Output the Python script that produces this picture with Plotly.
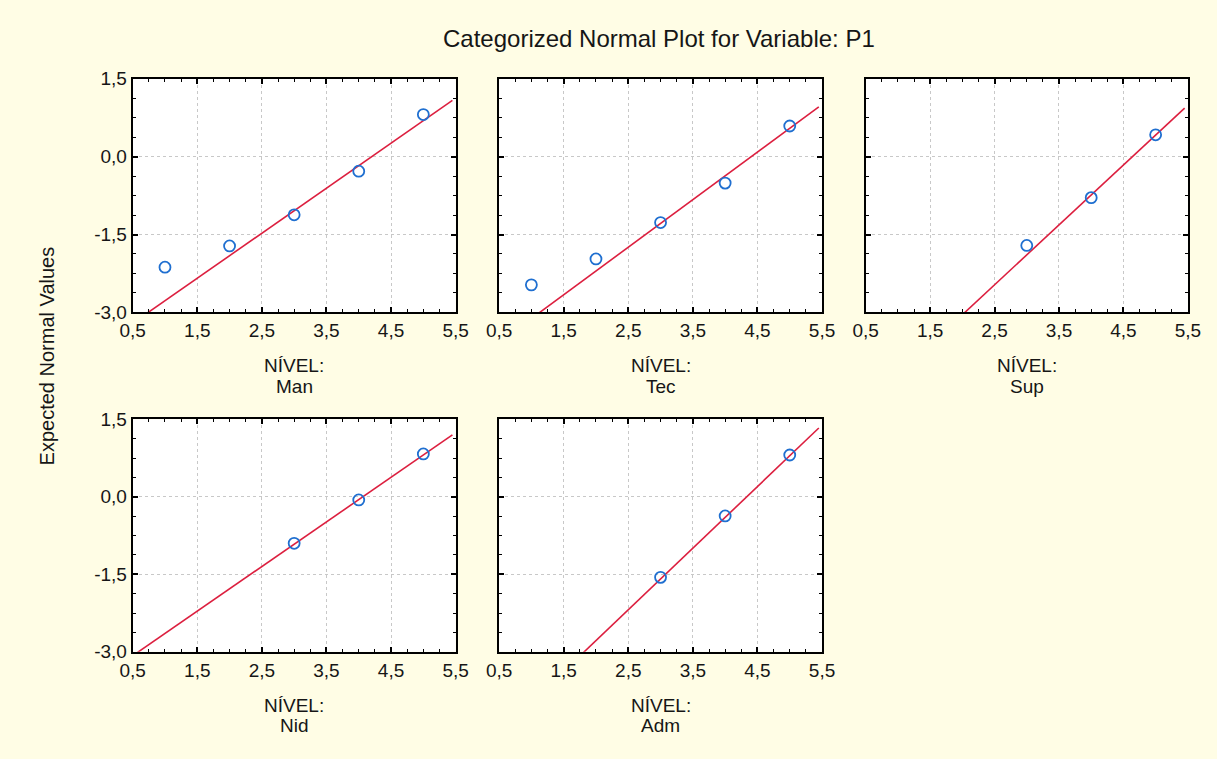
import plotly.graph_objects as go

# ---------------- data ----------------
categories = ["Man", "Tec", "Sup", "Nid", "Adm"]

obs_man = [1, 2, 3, 4, 5]
exp_man = [-2.13, -1.72, -1.12, -0.28, 0.81]

obs_tec = [1, 2, 3, 4, 5]
exp_tec = [-2.47, -1.97, -1.27, -0.51, 0.59]

obs_sup = [3, 4, 5]
exp_sup = [-1.71, -0.79, 0.42]

obs_nid = [3, 4, 5]
exp_nid = [-0.90, -0.06, 0.83]

obs_adm = [3, 4, 5]
exp_adm = [-1.56, -0.37, 0.81]

# fitted reference lines (slope, intercept) per category
fit_slope = [0.867, 0.916, 1.154, 0.864, 1.193]
fit_intercept = [-3.642, -4.035, -5.354, -3.510, -5.170]

x_tickvals = [0.5, 1.5, 2.5, 3.5, 4.5, 5.5]
x_ticktext = ["0,5", "1,5", "2,5", "3,5", "4,5", "5,5"]
y_tickvals = [-3.0, -1.5, 0.0, 1.5]
y_ticktext = ["-3,0", "-1,5", "0,0", "1,5"]

title_text = "Categorized Normal Plot for Variable: P1"
y_title = "Expected Normal Values"
group_label = "NÍVEL:"

obs = [obs_man, obs_tec, obs_sup, obs_nid, obs_adm]
exp = [exp_man, exp_tec, exp_sup, exp_nid, exp_adm]

# ---------------- layout geometry ----------------
W, H = 1217, 759
col_px = [(122.3, 452.3), (496.7, 826.7), (871.3, 1200.5)]
row_px = [(70.7, 311.0), (421.0, 660.0)]
cells = [(0, 0), (0, 1), (0, 2), (1, 0), (1, 1)]

FONT = "Liberation Sans, Arial, sans-serif"
BG = "#FFFDE5"
TXT = "#161616"
fig = go.Figure()
layout = dict(
    width=W, height=H,
    margin=dict(l=0, r=0, t=0, b=0),
    paper_bgcolor=BG, plot_bgcolor="white",
    showlegend=False,
    font=dict(family=FONT, color=TXT, size=19),
)
annotations = []

line_x = [0.5, 5.45]
for i, (r, c) in enumerate(cells):
    k = i + 1
    xa = "x" if k == 1 else f"x{k}"
    ya = "y" if k == 1 else f"y{k}"
    x0, x1 = col_px[c]
    yt, yb = row_px[r]
    xd = [x0 / W, x1 / W]
    yd = [1 - yb / H, 1 - yt / H]
    common = dict(
        showline=True, linewidth=2, linecolor="black", mirror="allticks",
        ticks="inside", ticklen=5, tickwidth=1.5, tickcolor="black",
        showgrid=True, gridcolor="#c8c8c8", gridwidth=1, griddash="dot",
        zeroline=False, fixedrange=True,
        tickfont=dict(family=FONT, size=19, color=TXT),
    )
    layout["xaxis" if k == 1 else f"xaxis{k}"] = dict(
        common, domain=xd, anchor=ya, range=[0.5, 5.5],
        tickvals=x_tickvals, ticktext=x_ticktext,
        minor=dict(dtick=0.25, tick0=0.5, ticks="inside", ticklen=3,
                   tickwidth=1.2, tickcolor="black", showgrid=False),
    )
    layout["yaxis" if k == 1 else f"yaxis{k}"] = dict(
        common, domain=yd, anchor=xa, range=[-3.0, 1.5],
        tickvals=y_tickvals, ticktext=y_ticktext,
        showticklabels=(c == 0),
        minor=dict(dtick=0.375, tick0=-3.0, ticks="inside", ticklen=3,
                   tickwidth=1.2, tickcolor="black", showgrid=False),
    )
    ly = [fit_slope[i] * xv + fit_intercept[i] for xv in line_x]
    fig.add_trace(go.Scatter(
        x=line_x, y=ly, mode="lines", xaxis=xa, yaxis=ya,
        line=dict(color="#DC1F3F", width=1.6), hoverinfo="skip"))
    fig.add_trace(go.Scatter(
        x=obs[i], y=exp[i], mode="markers", xaxis=xa, yaxis=ya,
        marker=dict(symbol="circle-open", size=11, color="#1F6FD0",
                    line=dict(width=1.8, color="#1F6FD0"))))
    cx = (x0 + x1) / 2 / W
    annotations.append(dict(
        text=group_label, x=cx, y=1 - (yb + 55) / H, xref="paper", yref="paper",
        showarrow=False, xanchor="center", yanchor="middle",
        font=dict(family=FONT, size=19, color=TXT)))
    annotations.append(dict(
        text=categories[i], x=cx, y=1 - (yb + 76) / H, xref="paper", yref="paper",
        showarrow=False, xanchor="center", yanchor="middle",
        font=dict(family=FONT, size=19, color=TXT)))

annotations.append(dict(
    text=title_text, x=660 / W, y=1 - 29 / H, xref="paper", yref="paper",
    showarrow=False, xanchor="center", yanchor="middle",
    font=dict(family=FONT, size=24, color=TXT)))
annotations.append(dict(
    text=y_title, x=35 / W, y=1 - 356 / H, xref="paper", yref="paper",
    showarrow=False, xanchor="center", yanchor="middle", textangle=-90,
    font=dict(family=FONT, size=20, color=TXT)))

layout["annotations"] = annotations
fig.update_layout(**layout)
fig.write_html("out.html")
